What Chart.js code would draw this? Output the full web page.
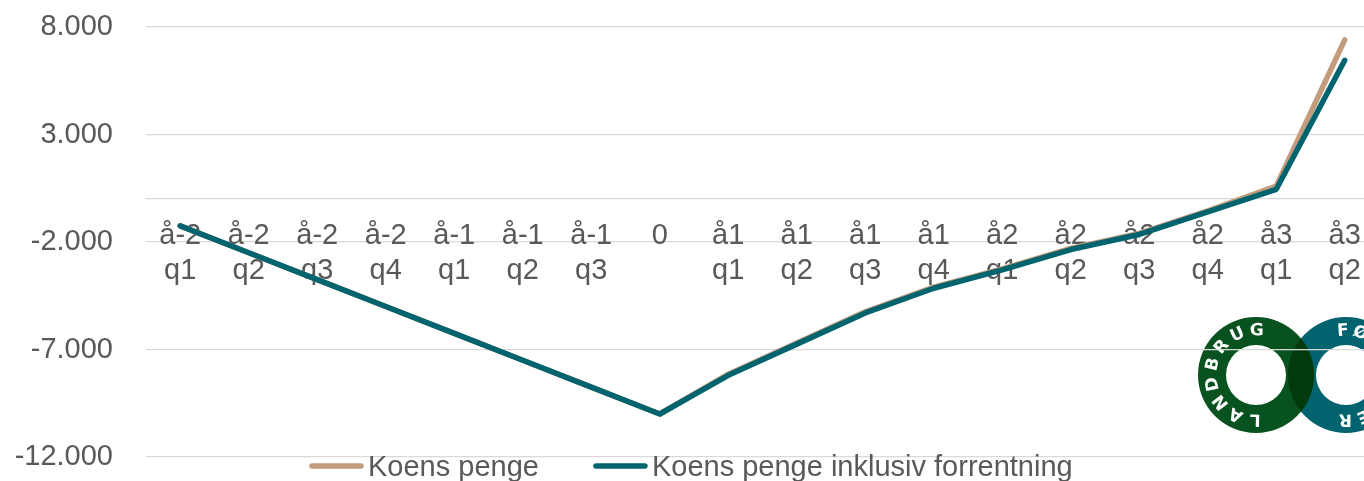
<!DOCTYPE html>
<html>
<head>
<meta charset="utf-8">
<script src="https://cdn.jsdelivr.net/npm/chart.js@4.4.1/dist/chart.umd.min.js"></script>
<style>
  html, body { margin: 0; padding: 0; background: #fff; overflow: hidden; }
  #wrap { width: 1382px; height: 481px; }
</style>
</head>
<body>
<div id="wrap"><canvas id="myChart" width="1382" height="481"></canvas></div>
<script>
// data
const categories = ['å-2 q1', 'å-2 q2', 'å-2 q3', 'å-2 q4', 'å-1 q1', 'å-1 q2', 'å-1 q3', '0',
  'å1 q1', 'å1 q2', 'å1 q3', 'å1 q4', 'å2 q1', 'å2 q2', 'å2 q3', 'å2 q4', 'å3 q1', 'å3 q2'];
const koensPenge = [-1250, -2500, -3750, -5000, -6250, -7500, -8750, -10000,
  -8150, -6700, -5250, -4100, -3250, -2300, -1600, -550, 600, 7400];
const koensPengeRente = [-1250, -2500, -3750, -5000, -6250, -7500, -8750, -10000,
  -8200, -6750, -5300, -4150, -3300, -2350, -1650, -600, 450, 6450];
const seriesNames = ['Koens penge', 'Koens penge inklusiv forrentning'];
const yMin = -12000;
const yMax = 8000;
const yStep = 5000;

const FONT = "'Liberation Sans', Arial, sans-serif";
const TXT = '#595959';

function fmt(v) {
  const s = Math.abs(v).toString().replace(/\B(?=(\d{3})+(?!\d))/g, '.');
  return (v < 0 ? '-' : '') + s;
}

// legend drawn under the plot, overlapping like in the original
const legendPlugin = {
  id: 'bottomLegend',
  afterDraw(chart) {
    const ctx = chart.ctx;
    const y = 466;
    let x = 310;
    ctx.save();
    ctx.font = '29px ' + FONT;
    ctx.textBaseline = 'middle';
    chart.data.datasets.forEach(ds => {
      ctx.strokeStyle = ds.borderColor;
      ctx.lineWidth = 5.5;
      ctx.lineCap = 'round';
      ctx.beginPath();
      ctx.moveTo(x + 2, y);
      ctx.lineTo(x + 51, y);
      ctx.stroke();
      ctx.fillStyle = TXT;
      ctx.fillText(ds.label, x + 58, y + 1.5);
      x = x + 58 + ctx.measureText(ds.label).width + 55;
    });
    ctx.restore();
  }
};

function ringText(ctx, text, cx, cy, r, start, step) {
  for (let i = 0; i < text.length; i++) {
    const a = (start + i * step) * Math.PI / 180;
    ctx.save();
    ctx.translate(cx + r * Math.cos(a), cy + r * Math.sin(a));
    ctx.rotate(a + Math.PI / 2);
    ctx.fillText(text[i], 0, 0);
    ctx.restore();
  }
}

// Landbrug & Fødevarer logo in the corner
const logoPlugin = {
  id: 'logo',
  beforeDraw(chart) {
    const ctx = chart.ctx;
    const g = { x: 1256, y: 375 }, t = { x: 1346, y: 375 };
    const R = 58, r = 30;
    const ring = c => {
      ctx.beginPath();
      ctx.arc(c.x, c.y, R, 0, Math.PI * 2);
      ctx.arc(c.x, c.y, r, 0, Math.PI * 2, true);
    };
    ctx.save();
    ctx.fillStyle = '#00636e';
    ring(t); ctx.fill();
    ctx.fillStyle = '#07521f';
    ring(g); ctx.fill();
    ctx.save();
    ring(g); ctx.clip();
    ctx.fillStyle = '#023a0c';
    ring(t); ctx.fill();
    ctx.restore();
    ctx.fillStyle = '#fff';
    ctx.font = "bold 17px 'DejaVu Sans', sans-serif";
    ctx.textAlign = 'center';
    ctx.textBaseline = 'middle';
    ringText(ctx, 'LANDBRUG', g.x, g.y, 44, 91, 25.7);
    ringText(ctx, 'FØDEVARER', t.x, t.y, 44, 266, 23.1);
    ctx.restore();
  }
};

const myChart = new Chart(document.getElementById('myChart'), {
  type: 'line',
  data: {
    labels: categories.map(c => c.split(' ')),
    datasets: [
      {
        label: seriesNames[0],
        data: koensPenge,
        borderColor: '#c39b7d',
        borderWidth: 5.5,
        order: 2
      },
      {
        label: seriesNames[1],
        data: koensPengeRente,
        borderColor: '#00646e',
        borderWidth: 5.5,
        order: 1
      }
    ]
  },
  options: {
    responsive: false,
    animation: false,
    layout: { padding: { top: 27, bottom: 24, left: 0, right: 3 } },
    elements: {
      point: { radius: 0 },
      line: { tension: 0, borderCapStyle: 'round', borderJoinStyle: 'round' }
    },
    plugins: {
      legend: { display: false },
      tooltip: { enabled: false }
    },
    scales: {
      x: {
        type: 'category',
        position: { y: 0 },
        offset: true,
        grid: { display: false, drawTicks: false },
        border: { display: true, color: '#d9d9d9', width: 1.3 },
        ticks: {
          color: TXT,
          font: { family: FONT, size: 29, lineHeight: 1.2 },
          padding: 20,
          maxRotation: 0,
          autoSkip: false
        }
      },
      y: {
        min: yMin,
        max: yMax,
        afterFit(scale) { scale.width = 146; },
        grid: { color: '#d9d9d9', lineWidth: 1.3, drawTicks: true, tickLength: 33, tickColor: 'rgba(0,0,0,0)' },
        border: { display: false },
        ticks: {
          stepSize: yStep,
          color: TXT,
          font: { family: FONT, size: 29 },
          padding: 0,
          callback: v => fmt(v)
        }
      }
    }
  },
  plugins: [logoPlugin, legendPlugin]
});
</script>
</body>
</html>
